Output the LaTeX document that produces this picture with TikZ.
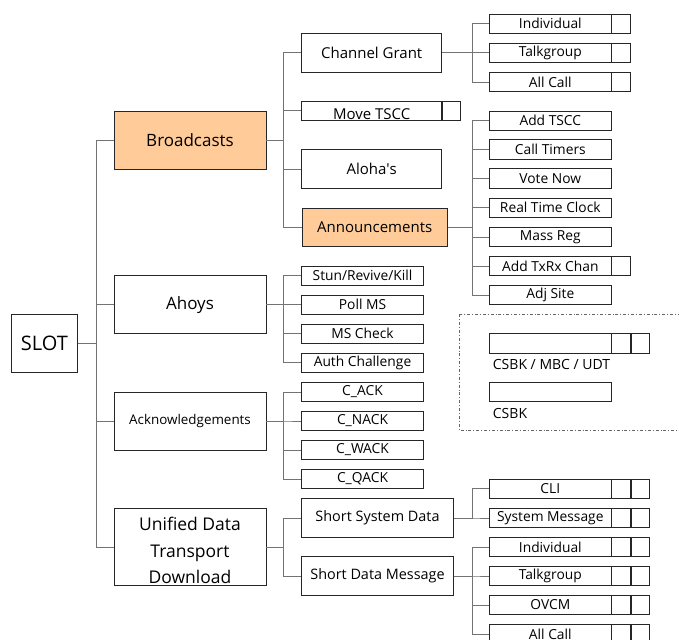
\documentclass[tikz,border=0pt]{standalone}
\usepackage{fontspec}
\setmainfont{Open Sans}
\usetikzlibrary{positioning}
\definecolor{boxorange}{HTML}{FFCC99}

\begin{document}
\begin{tikzpicture}[x=1pt,y=-1pt]
\tikzset{
  box/.style={rectangle,draw=black!85,line width=0.9pt,inner sep=0pt,minimum height=19.5pt},
  topbox/.style={box,minimum width=152pt,minimum height=58pt,font=\fontsize{17}{20}\selectfont},
  midbox/.style={box,minimum width=140pt,minimum height=38.6pt,font=\fontsize{15}{18}\selectfont},
  smallbox/.style={box,minimum width=121.6pt,font=\fontsize{13.8}{16}\selectfont},
  leaf/.style={box,minimum width=121.3pt,font=\fontsize{13.8}{16}\selectfont},
  cell/.style={box,minimum width=18.3pt,anchor=west},
  hot/.style={fill=boxorange},
  link/.style={draw=black!55,line width=0.9pt},
  legtext/.style={inner sep=0pt,font=\fontsize{14}{16}\selectfont}
}
\clip (0,0) rectangle (679,639);
\fill[white] (0,0) rectangle (679,639);
% root and first level
\node[box,minimum width=66.7pt,minimum height=58pt,font=\fontsize{20}{24}\selectfont] (n_slot) at (44.3,343.3) {SLOT};
\node[topbox,hot] (n_bc) at (190,140) {Broadcasts};
\node[topbox] (n_ah) at (190,304.7) {Ahoys};
\node[topbox,font=\fontsize{13.4}{16}\selectfont] (n_ack) at (190,421) {Acknowledgements};
\node[topbox,minimum height=77.4pt,font=\fontsize{17.5}{26.7}\selectfont] (n_udt) at (190,547)
  {\smash{\raisebox{-9pt}{\begin{tabular}{@{}c@{}}Unified Data\\Transport\\Download\end{tabular}}}};
% second level
\node[midbox] (n_cg) at (371.7,52.7) {Channel Grant};
\node[midbox,minimum height=19pt] (n_mt) at (371.7,110.8) {\smash{\raisebox{-8.5pt}{Move TSCC}}};
\node[cell,minimum height=19pt,minimum width=17.6pt] (n_mt_c) at (n_mt.east) {};
\node[midbox] (n_al) at (371.7,169) {Aloha\textquotesingle s};
\node[midbox,hot,minimum width=145.3pt,minimum height=38.4pt] (n_an) at (374.7,227.5) {Announcements};
\node[smallbox] (n_stun) at (362.5,275.7) {Stun/Revive/Kill};
\node[smallbox] (n_poll) at (362.5,304.7) {Poll MS};
\node[smallbox] (n_chk) at (362.5,333.7) {MS Check};
\node[smallbox] (n_auth) at (362.5,362.7) {Auth Challenge};
\node[smallbox] (n_c_ack) at (362.5,392) {C\_ACK};
\node[smallbox] (n_c_nack) at (362.5,421) {C\_NACK};
\node[smallbox] (n_c_wack) at (362.5,450) {C\_WACK};
\node[smallbox] (n_c_qack) at (362.5,479) {C\_QACK};
\node[midbox,minimum width=151.6pt,font=\fontsize{14.4}{17}\selectfont] (n_ssd) at (377.5,518) {Short System Data};
\node[midbox,minimum width=151.6pt,font=\fontsize{14.4}{17}\selectfont] (n_sdm) at (377.5,576) {Short Data Message};
% leaves of channel grant
\node[leaf] (n_cg_ind) at (550.3,23.8) {Individual};
\node[leaf] (n_cg_tg) at (550.3,52.8) {Talkgroup};
\node[leaf] (n_cg_all) at (550.3,82) {All Call};
\node[cell] (n_cg_ind_c) at (n_cg_ind.east) {};
\node[cell] (n_cg_tg_c) at (n_cg_tg.east) {};
\node[cell] (n_cg_all_c) at (n_cg_all.east) {};
% leaves of announcements
\node[leaf] (n_an_add) at (550.3,120.8) {Add TSCC};
\node[leaf] (n_an_tim) at (550.3,149.7) {Call Timers};
\node[leaf] (n_an_vote) at (550.3,178.7) {Vote Now};
\node[leaf] (n_an_rtc) at (550.3,207.8) {Real Time Clock};
\node[leaf] (n_an_mass) at (550.3,237) {Mass Reg};
\node[leaf] (n_an_txrx) at (550.3,266) {Add TxRx Chan};
\node[leaf] (n_an_adj) at (550.3,295) {Adj Site};
\node[cell] (n_an_txrx_c) at (n_an_txrx.east) {};
% leaves of short system data
\node[leaf] (n_ssd_cli) at (550.3,488.7) {CLI};
\node[leaf] (n_ssd_sys) at (550.3,518) {System Message};
\node[cell] (n_ssd_cli_c1) at (n_ssd_cli.east) {};
\node[cell] (n_ssd_cli_c2) at (n_ssd_cli_c1.east) {};
\node[cell] (n_ssd_sys_c1) at (n_ssd_sys.east) {};
\node[cell] (n_ssd_sys_c2) at (n_ssd_sys_c1.east) {};
% leaves of short data message
\node[leaf] (n_sdm_ind) at (550.3,547) {Individual};
\node[leaf] (n_sdm_tg) at (550.3,576) {Talkgroup};
\node[leaf] (n_sdm_ovcm) at (550.3,605) {OVCM};
\node[leaf] (n_sdm_all) at (550.3,634) {All Call};
\foreach \n in {ind,tg,ovcm,all} {
  \node[cell] (n_sdm_\n_c1) at (n_sdm_\n.east) {};
  \node[cell] (n_sdm_\n_c2) at (n_sdm_\n_c1.east) {};
}
% legend
\draw[draw=black!60,line width=0.8pt,dash dot] (459.3,314.3) rectangle (700,430);
\node[leaf] (n_lg_mbc) at (550.3,343.5) {};
\node[cell] (n_lg_mbc_c1) at (n_lg_mbc.east) {};
\node[cell] (n_lg_mbc_c2) at (n_lg_mbc_c1.east) {};
\node[legtext,below right=5pt and 3.5pt of n_lg_mbc.south west] (n_lg_mbc_t) {CSBK / MBC / UDT};
\node[leaf] (n_lg_csbk) at (550.3,391.8) {};
\node[legtext,below right=6.5pt and 3.5pt of n_lg_csbk.south west] (n_lg_csbk_t) {CSBK};
% connectors
\foreach \c in {n_bc,n_ah,n_ack,n_udt}
  \draw[link] (n_slot.east) -- ++(18,0) |- (\c.west);
\foreach \c in {n_cg,n_mt,n_al,n_an}
  \draw[link] (n_bc.east) -- ++(17.3,0) |- (\c.west);
\foreach \c in {n_stun,n_poll,n_chk,n_auth}
  \draw[link] (n_ah.east) -- ++(17.3,0) |- (\c.west);
\foreach \c in {n_c_ack,n_c_nack,n_c_wack,n_c_qack}
  \draw[link] (n_ack.east) -- ++(17.3,0) |- (\c.west);
\foreach \c in {n_ssd,n_sdm}
  \draw[link] (n_udt.east) -- ++(17.3,0) |- (\c.west);
\foreach \c in {n_cg_ind,n_cg_tg,n_cg_all}
  \draw[link] (n_cg.east) -- ++(30,0) |- (\c.west);
\foreach \c in {n_an_add,n_an_tim,n_an_vote,n_an_rtc,n_an_mass,n_an_txrx,n_an_adj}
  \draw[link] (n_an.east) -- ++(24.4,0) |- (\c.west);
\foreach \c in {n_ssd_cli,n_ssd_sys}
  \draw[link] (n_ssd.east) -- ++(18.4,0) |- (\c.west);
\foreach \c in {n_sdm_ind,n_sdm_tg,n_sdm_ovcm,n_sdm_all}
  \draw[link] (n_sdm.east) -- ++(18.4,0) |- (\c.west);
\end{tikzpicture}
\end{document}
